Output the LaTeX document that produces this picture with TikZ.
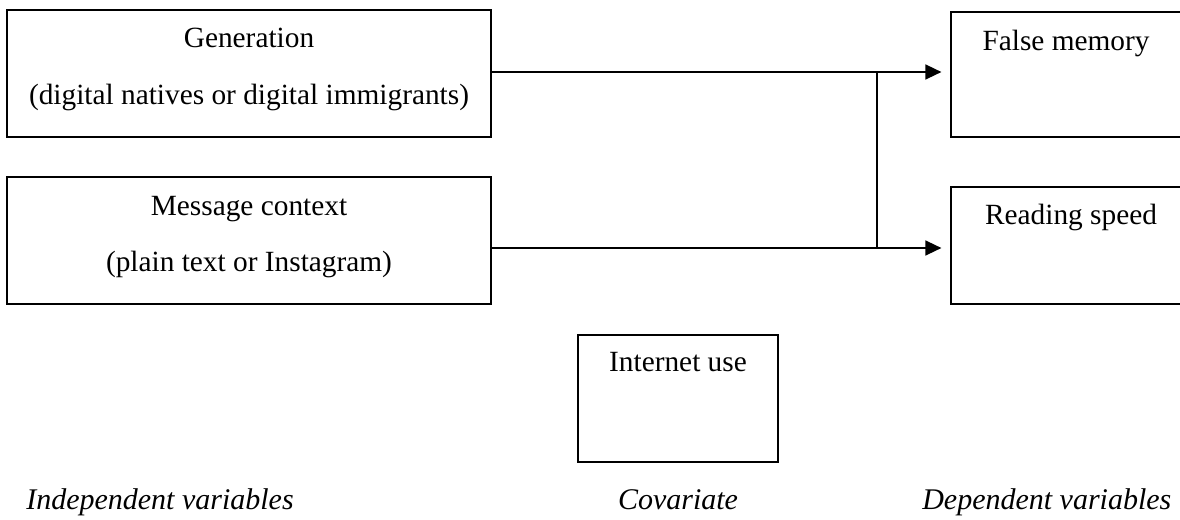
\documentclass[tikz,border=0pt]{standalone}
\usepackage{fontspec}
\setmainfont{Liberation Serif}
\usetikzlibrary{arrows.meta}
\begin{document}
\begin{tikzpicture}[x=0.75pt,y=-0.75pt,
  varbox/.style={draw=black,line width=0.8pt,inner sep=0pt},
  lbl/.style={inner sep=0pt,anchor=base,font=\fontsize{22}{26}\selectfont},
  captxt/.style={inner sep=0pt,anchor=base,font=\fontsize{22.5}{27}\selectfont\itshape},
  conn/.style={line width=1.8pt,-{Triangle[length=12pt,width=11pt]}},
  vline/.style={line width=1.8pt}]
\useasboundingbox (0,0) rectangle (1180,520);
\clip (0,0) rectangle (1180,520);
% boxes
\node[varbox,minimum width=484*0.75pt,minimum height=127*0.75pt] (gen) at (249,73.5) {};
\node[varbox,minimum width=484*0.75pt,minimum height=127*0.75pt] (msg) at (249,240.5) {};
\node[varbox,minimum width=300*0.75pt,minimum height=125*0.75pt] (fm) at (1101,74.5) {};
\node[varbox,minimum width=300*0.75pt,minimum height=117*0.75pt] (rs) at (1101,245.5) {};
\node[varbox,minimum width=200*0.75pt,minimum height=127*0.75pt] (net) at (678,398.5) {};
% texts
\node[lbl] (genA) at (249,48) {Generation};
\node[lbl] (genB) at (249,105) {(digital natives or digital immigrants)};
\node[lbl] (msgA) at (249,215) {Message context};
\node[lbl] (msgB) at (249,272) {(plain text or Instagram)};
\node[lbl] (fmA) at (1066,51) {False memory};
\node[lbl] (rsA) at (1071,224) {Reading speed};
\node[lbl] (netA) at (678,371) {Internet use};
\node[captxt] (capI) at (160,509) {Independent variables};
\node[captxt] (capC) at (678,509) {Covariate};
\node[captxt,anchor=base west] (capD) at (922,509) {Dependent variables};
% connectors
\coordinate (j1) at (877,72);
\coordinate (j2) at (877,248);
\draw[conn,shorten >=9*0.75pt] (gen.east |- j1) -- (fm.west |- j1);
\draw[conn,shorten >=9*0.75pt] (msg.east |- j2) -- (rs.west |- j2);
\draw[vline] (j1) -- (j2);
\end{tikzpicture}
\end{document}
